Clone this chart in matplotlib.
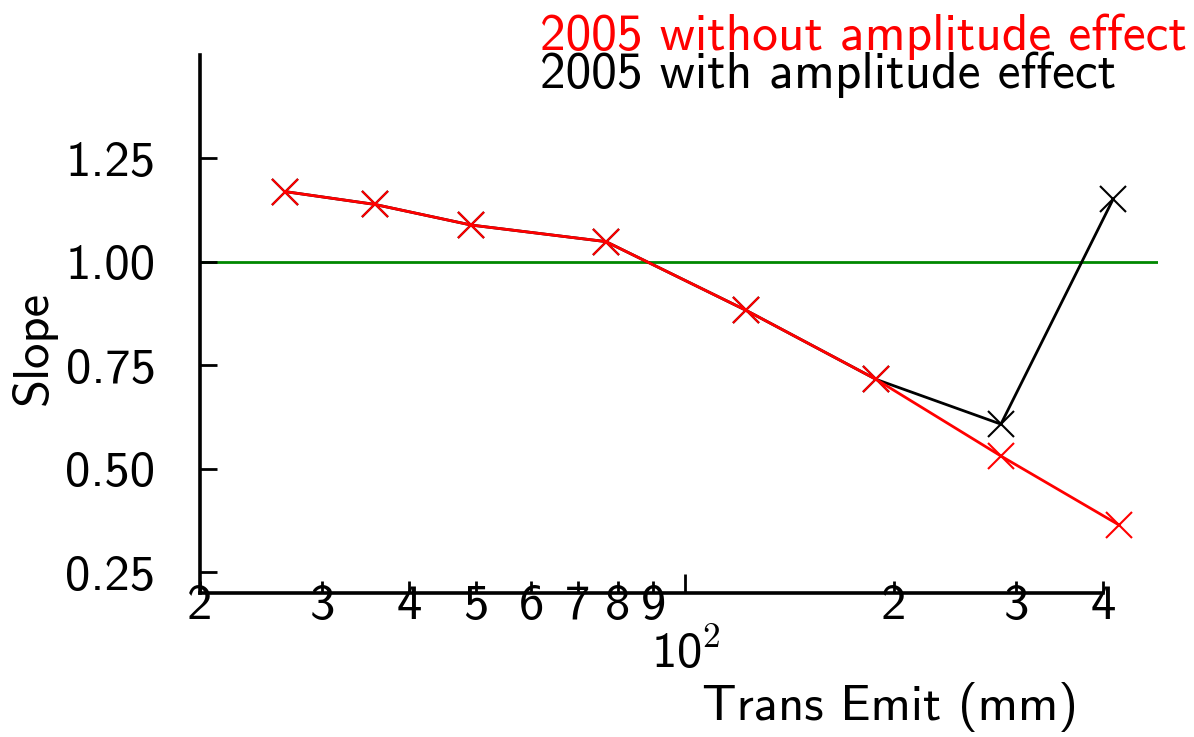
import matplotlib.pyplot as plt
from matplotlib.ticker import FixedLocator, FixedFormatter

# valores
emit_red = [26.5, 35.7, 49.2, 76.9, 122.4, 188.5, 285.1, 422.2]
slope_red = [1.170, 1.139, 1.089, 1.049, 0.883, 0.716, 0.531, 0.364]
emit_black = [26.5, 35.7, 49.2, 76.9, 122.4, 188.5, 285.1, 413.5]
slope_black = [1.170, 1.139, 1.089, 1.049, 0.883, 0.716, 0.608, 1.151]

major_ticks = [100]
major_labels = [r'$\mathsf{10}^{\mathrm{2}}$']
minor_ticks = [20, 30, 40, 50, 60, 70, 80, 90, 200, 300, 400]
minor_labels = ['2', '3', '4', '5', '6', '7', '8', '9', '2', '3', '4']
y_ticks = [0.25, 0.50, 0.75, 1.00, 1.25]
y_labels = ['0.25', '0.50', '0.75', '1.00', '1.25']

plt.rcParams['font.family'] = 'cmss10'
plt.rcParams['mathtext.fontset'] = 'custom'
plt.rcParams['mathtext.rm'] = 'cmr10'
plt.rcParams['mathtext.sf'] = 'cmss10'
plt.rcParams['axes.unicode_minus'] = False
plt.rcParams['font.size'] = 36.5

fig = plt.figure(figsize=(11.94, 7.37), dpi=100)
ax = fig.add_axes([0.1675, 0.1954, 0.8023, 0.7300])

ax.axhline(1.0, color='#008800', linewidth=2.0, zorder=1)
ax.plot(emit_black, slope_black, color='black', linewidth=2.0,
        marker='x', markersize=19, markeredgewidth=1.5, zorder=2)
ax.plot(emit_red, slope_red, color='red', linewidth=2.0,
        marker='x', markersize=19, markeredgewidth=1.5, zorder=3)

ax.set_xscale('log')
ax.set_xlim(20, 480)
ax.set_ylim(0.2, 1.5)

ax.xaxis.set_major_locator(FixedLocator(major_ticks))
ax.xaxis.set_major_formatter(FixedFormatter(major_labels))
ax.xaxis.set_minor_locator(FixedLocator(minor_ticks))
ax.xaxis.set_minor_formatter(FixedFormatter(minor_labels))
ax.set_yticks(y_ticks, y_labels)

ax.spines['top'].set_visible(False)
ax.spines['right'].set_visible(False)
ax.spines['left'].set_linewidth(2.6)
ax.spines['bottom'].set_linewidth(2.6)
ax.spines['bottom'].set_bounds(20, 400)

ax.tick_params(axis='x', which='major', direction='in', length=14, width=2.0, pad=26)
ax.tick_params(axis='x', which='minor', direction='in', length=8.5, width=2.0, pad=-6.5)
ax.tick_params(axis='y', which='major', direction='in', length=12, width=2.0, pad=32)

ax.set_xlabel('Trans Emit (mm)', va='top')
ax.xaxis.set_label_coords(0.72, -0.165)
ax.set_ylabel('Slope', va='center')
ax.yaxis.set_label_coords(-0.174, 0.455)

fig.text(540 / 1194, 1 - 50 / 737, '2005 without amplitude effect',
         color='red', ha='left', va='baseline', fontsize=37)
fig.text(540 / 1194, 1 - 88 / 737, '2005 with amplitude effect',
         color='black', ha='left', va='baseline', fontsize=37)

fig.savefig('out.png', dpi=100)
